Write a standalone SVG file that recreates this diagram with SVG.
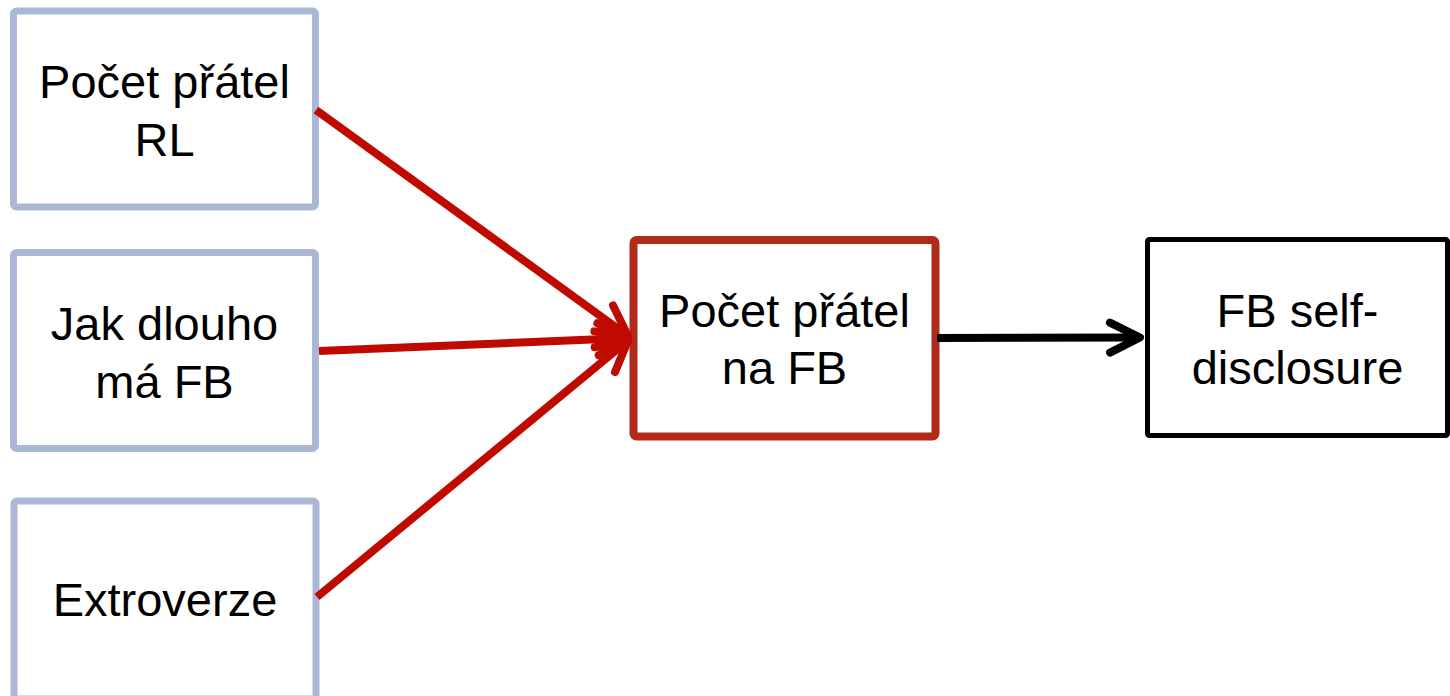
<svg xmlns="http://www.w3.org/2000/svg" width="1450" height="696" viewBox="0 0 1450 696">
<style>
.src{fill:#fff;stroke:#AAB8D5;stroke-width:7}
.mid{fill:#fff;stroke:#B22A1A;stroke-width:8}
.out{fill:#fff;stroke:#000;stroke-width:5}
.t{font-family:"Liberation Sans",Arial,sans-serif;font-size:47px;fill:#000;text-anchor:middle}
.red{stroke:#C00A00;stroke-width:8;fill:none}
.blk{stroke:#000;stroke-width:8;fill:none}
</style>
<defs>
<marker id="ar" markerUnits="userSpaceOnUse" orient="auto" markerWidth="50" markerHeight="50" refX="0" refY="0" viewBox="-40 -25 50 50" overflow="visible">
<path d="M-30,-16 L0,0 L-30,16" fill="none" stroke="#C00A00" stroke-width="8" stroke-linecap="round" stroke-linejoin="round"/>
</marker>
<marker id="ab" markerUnits="userSpaceOnUse" orient="auto" markerWidth="50" markerHeight="50" refX="0" refY="0" viewBox="-40 -25 50 50" overflow="visible">
<path d="M-30,-15 L0,0 L-30,15" fill="none" stroke="#000" stroke-width="8" stroke-linecap="round" stroke-linejoin="round"/>
</marker>
</defs>
<g id="n1"><rect class="src" x="13.5" y="11" width="302" height="196" rx="3"/>
<text class="t" x="164.5" y="98">Počet přátel</text><text class="t" x="164.5" y="156">RL</text></g>
<g id="n2"><rect class="src" x="13.5" y="252.5" width="302" height="196" rx="3"/>
<text class="t" x="164.5" y="340">Jak dlouho</text><text class="t" x="164.5" y="398">má FB</text></g>
<g id="n3"><rect class="src" x="14" y="501" width="302" height="198" rx="3"/>
<text class="t" x="165" y="616">Extroverze</text></g>
<g id="n4"><rect class="mid" x="633.5" y="240" width="302" height="196.5" rx="3"/>
<text class="t" x="784.5" y="326.5">Počet přátel</text><text class="t" x="784.5" y="384">na FB</text></g>
<g id="n5"><rect class="out" x="1147.5" y="239.5" width="300" height="196" rx="2"/>
<text class="t" x="1297.5" y="326.5">FB self-</text><text class="t" x="1297.5" y="384">disclosure</text></g>
<g id="connectors">
<line class="red" x1="316" y1="110" x2="628" y2="336" marker-end="url(#ar)"/>
<line class="red" x1="319" y1="351" x2="628" y2="338" marker-end="url(#ar)"/>
<line class="red" x1="317" y1="597" x2="628" y2="340.5" marker-end="url(#ar)"/>
<line class="blk" x1="937" y1="338" x2="1140" y2="337.5" marker-end="url(#ab)"/>
</g>
</svg>
